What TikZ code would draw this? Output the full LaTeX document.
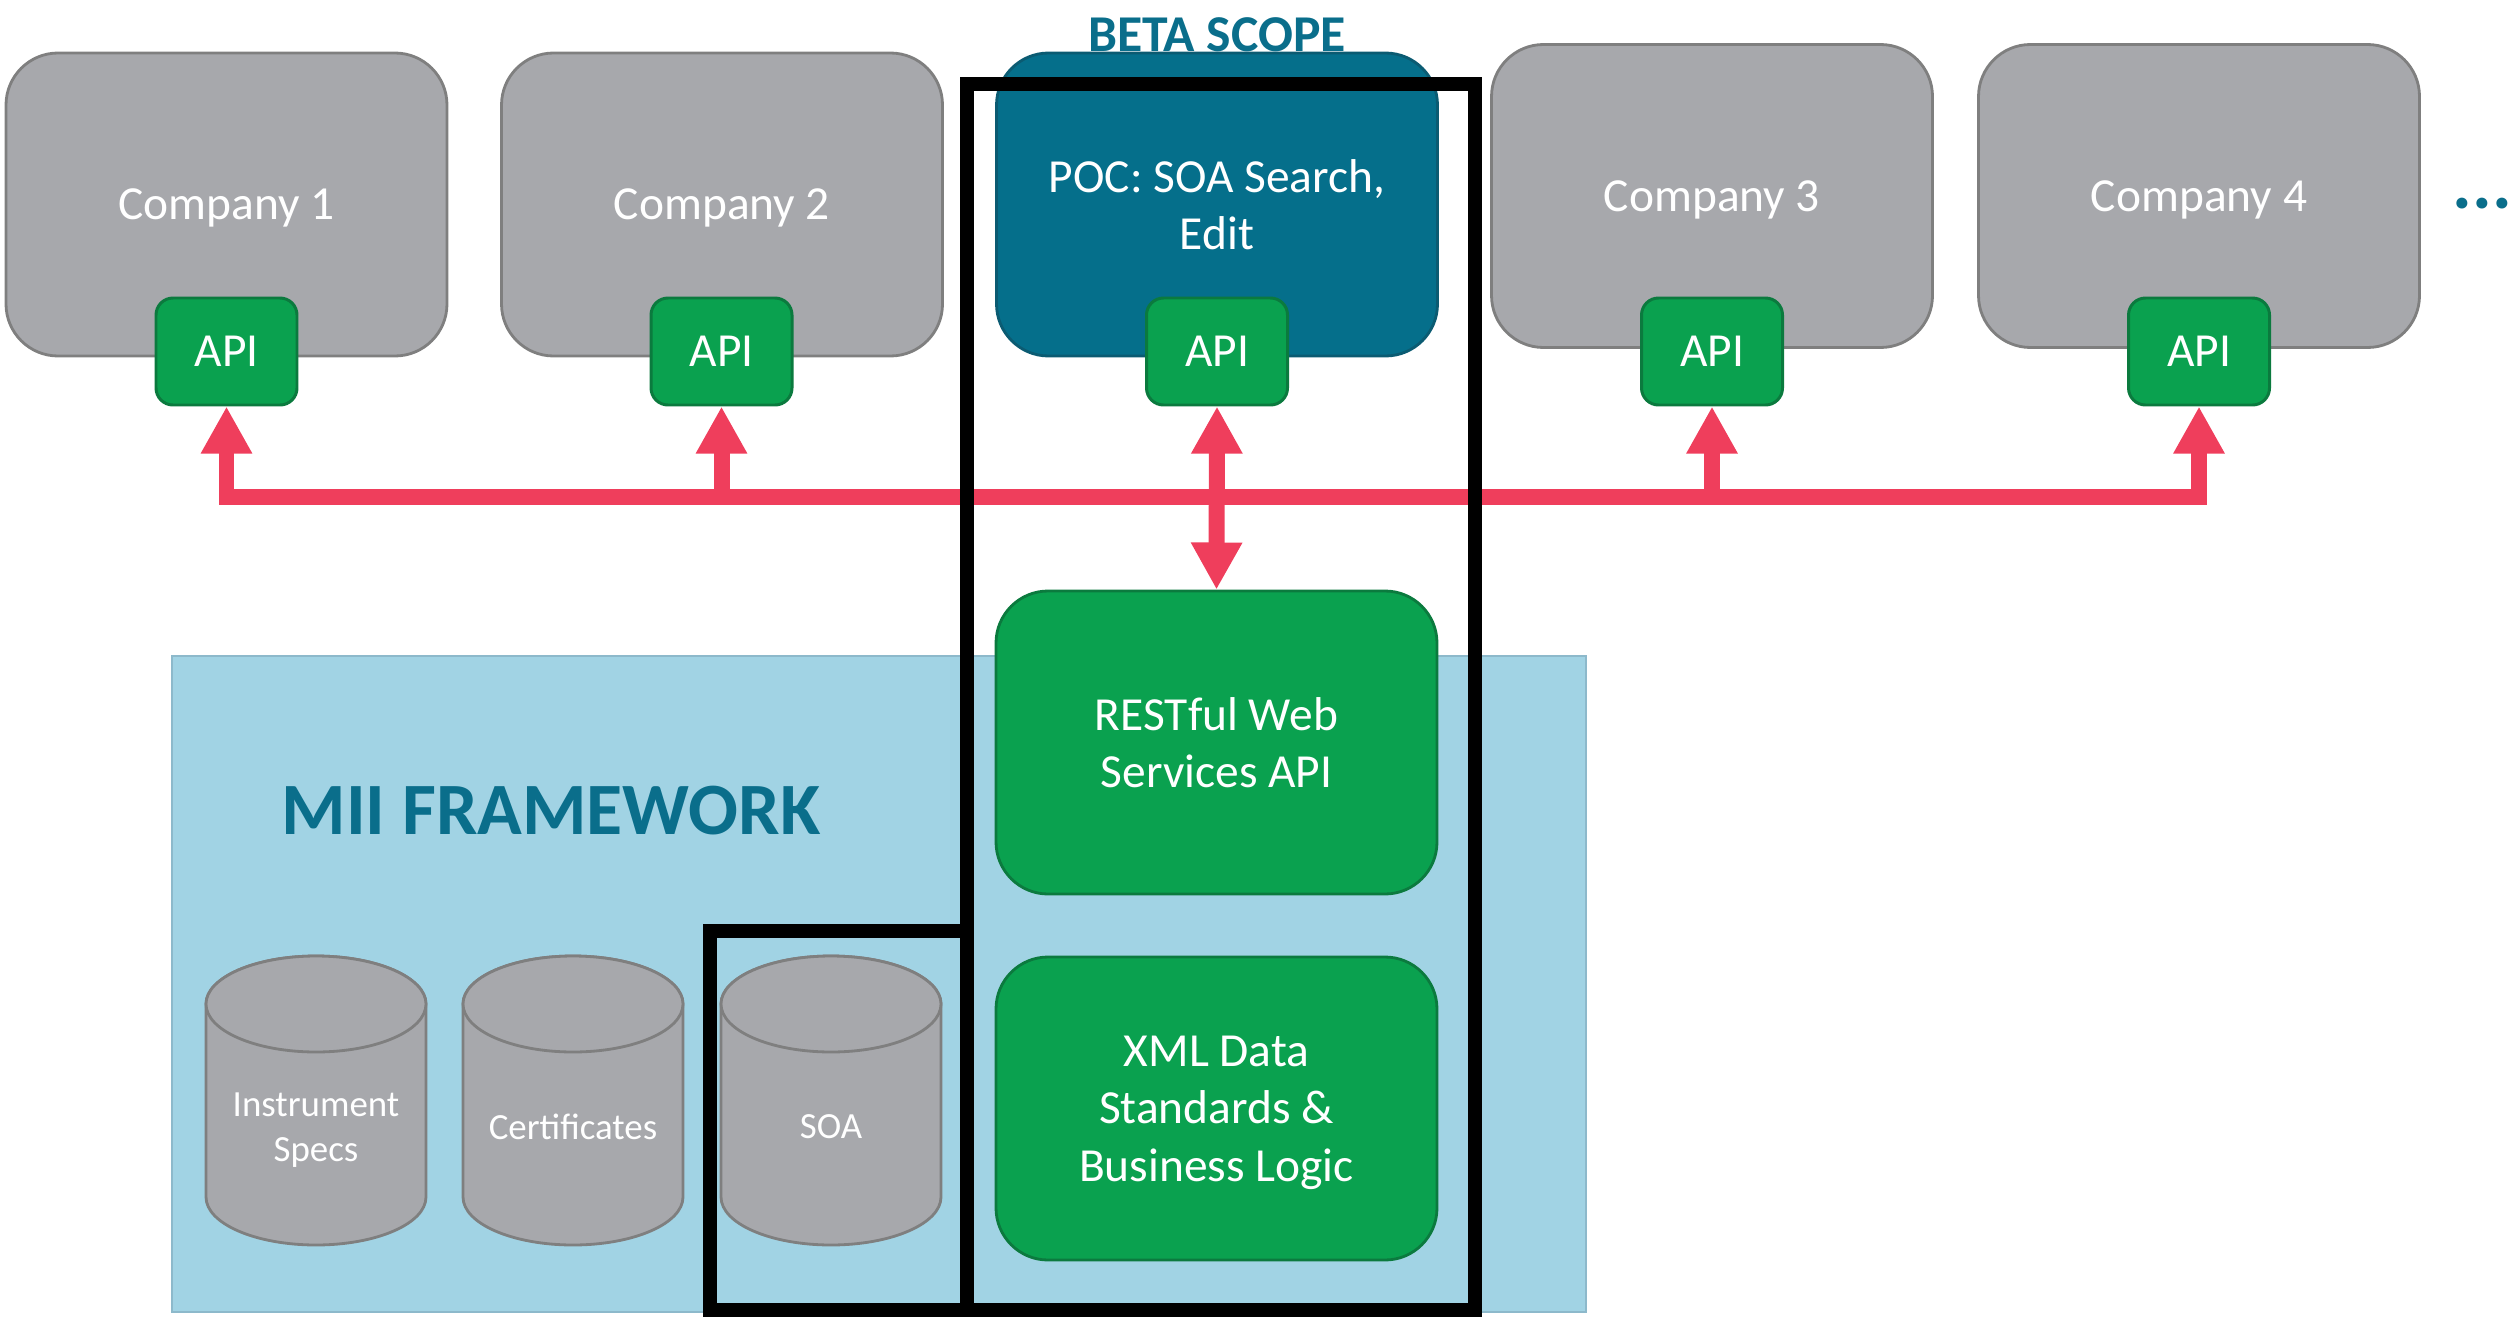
\documentclass[tikz,border=0pt]{standalone}
\usepackage{fontspec}
\setmainfont{Carlito}
\usetikzlibrary{arrows.meta}

\definecolor{boxgray}{HTML}{A7A8AC}
\definecolor{boxgrayline}{HTML}{7F7F7F}
\definecolor{apigreen}{HTML}{0AA14F}
\definecolor{apigreenline}{HTML}{0B7A3E}
\definecolor{pocteal}{HTML}{056F8B}
\definecolor{poctealline}{HTML}{0B5B72}
\definecolor{busred}{HTML}{EF3E5C}
\definecolor{miiblue}{HTML}{A1D3E4}
\definecolor{miiblueline}{HTML}{8DB9CB}
\definecolor{titleteal}{HTML}{0A6E8B}

\begin{document}
\begin{tikzpicture}[x=0.1mm, y=-0.1mm, >={Triangle[width=13.7pt,length=13.4pt]},
    bigbox/.style={line width=0.8pt, rounded corners=5.2mm, minimum width=44.1mm,
        minimum height=30.3mm, inner sep=0pt, text=white, align=center, text depth=0pt,
        font=\fontsize{13.5}{16.4}\selectfont},
    company/.style={bigbox, draw=boxgrayline, fill=boxgray},
    poc/.style={bigbox, draw=poctealline, fill=pocteal},
    layer/.style={bigbox, draw=apigreenline, fill=apigreen},
    api/.style={draw=apigreenline, fill=apigreen, line width=0.85pt, rounded corners=1.7mm,
        minimum width=14.1mm, minimum height=10.7mm, inner sep=0pt, text=white,
        font=\fontsize{13.5}{16.4}\selectfont},
    bus/.style={busred, line width=4.55pt},
    scopeline/.style={black, line width=4.1pt},
    cylbody/.style={draw=boxgrayline, fill=boxgray, line width=0.8pt},
    cyltext/.style={text=white, align=center, inner sep=0pt, text depth=0pt,
        font=\fontsize{10.5}{12.7}\selectfont},
    heading/.style={text=titleteal, inner sep=0pt}]
    \useasboundingbox (0,0) rectangle (2509,1318);

    % Framework area
    \node[draw=miiblueline, fill=miiblue, line width=0.8pt, minimum width=141.4mm,
        minimum height=65.6mm, inner sep=0pt] (mii) at (879,984) {};
    \node[heading, anchor=base west, font=\fontsize{21}{25}\selectfont\bfseries] (miititle) at (281,834) {MII FRAMEWORK};

    % Databases
    \filldraw[cylbody] (206,1004) -- (206,1197) arc (180:360:11mm and 4.8mm) -- (426,1004) arc (0:180:11mm and 4.8mm) -- cycle;
    \draw[cylbody] (316,1004) ellipse [x radius=11mm, y radius=4.8mm];
    \node[cyltext] (specs) at (316,1127) {Instrument\\Specs};
    \filldraw[cylbody] (463,1004) -- (463,1197) arc (180:360:11mm and 4.8mm) -- (683,1004) arc (0:180:11mm and 4.8mm) -- cycle;
    \draw[cylbody] (573,1004) ellipse [x radius=11mm, y radius=4.8mm];
    \node[cyltext] (certs) at (573,1127) {Certificates};
    \filldraw[cylbody] (721,1004) -- (721,1197) arc (180:360:11mm and 4.8mm) -- (941,1004) arc (0:180:11mm and 4.8mm) -- cycle;
    \draw[cylbody] (831,1004) ellipse [x radius=11mm, y radius=4.8mm];
    \node[cyltext] (soa) at (831,1127) {SOA};

    % Companies and their APIs
    \node[company] (comp1) at (226.5,204.5) {Company 1};
    \node[company] (comp2) at (722,204.5) {Company 2};
    \node[poc] (pocbox) at (1217,204.5) {POC: SOA Search,\\Edit};
    \node[company] (comp3) at (1712,196) {Company 3};
    \node[company] (comp4) at (2199,196) {Company 4};
    \node[api] (api1) at (226.5,351.5) {API};
    \node[api] (api2) at (721.5,351.5) {API};
    \node[api] (api3) at (1217,351.5) {API};
    \node[api] (api4) at (1712,351.5) {API};
    \node[api] (api5) at (2199,351.5) {API};

    % Service layers
    \node[layer] (rest) at (1216.5,742.5) {RESTful Web\\Services API};
    \node[layer] (xml) at (1216.5,1108.5) {XML Data\\Standards \&\\Business Logic};

    % Red bus
    \coordinate (busline) at (0,497);
    \draw[bus, <->] (api1.south) -- (api1.south |- busline) -- (api5.south |- busline) -- (api5.south);
    \draw[bus, ->] (api2.south |- busline) -- (api2.south);
    \draw[bus, ->] (api4.south |- busline) -- (api4.south);
    \draw[bus, <->] (api3.south) -- (rest.north);

    % Beta scope frames
    \draw[scopeline] (967,84) rectangle (1475,1310);
    \draw[scopeline] (967,931) -- (710,931) -- (710,1310) -- (967,1310);
    \node[heading, anchor=base, font=\fontsize{14.7}{17}\selectfont\bfseries] (betatitle) at (1217,51) {BETA SCOPE};
    \node[heading, anchor=base west, font=\fontsize{21}{25}\selectfont\bfseries] (more) at (2452,208) {...};
\end{tikzpicture}
\end{document}
